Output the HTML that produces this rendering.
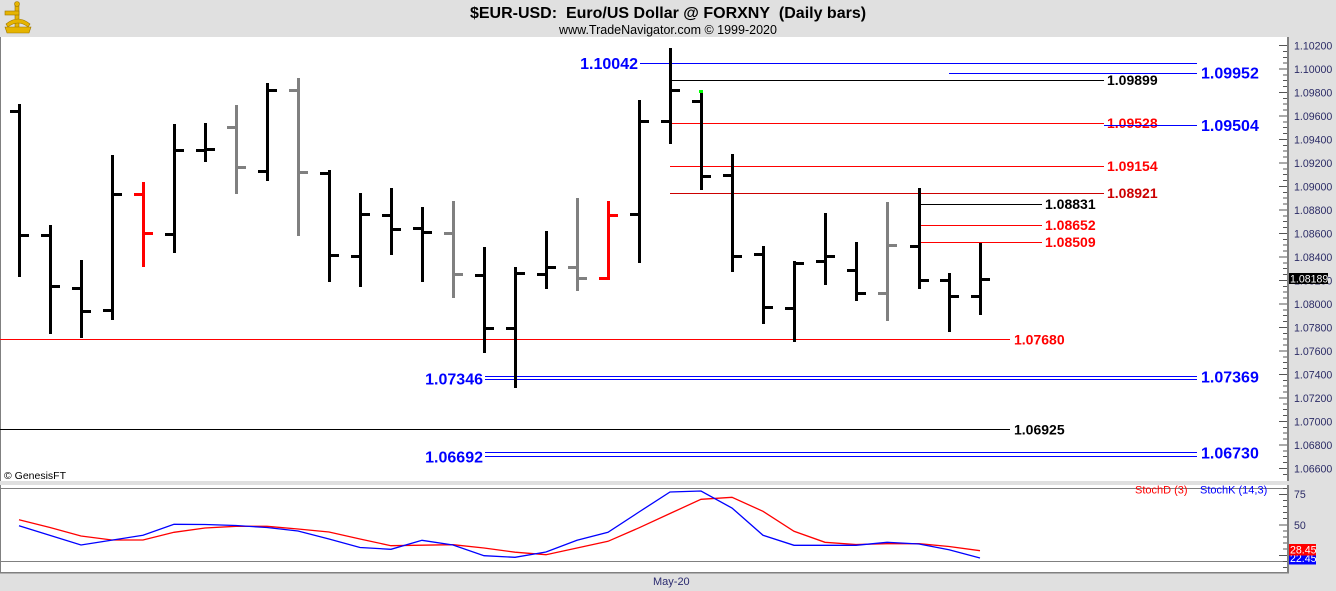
<!DOCTYPE html>
<html>
<head>
<meta charset="utf-8">
<style>
html,body{margin:0;padding:0;background:#e0e0e0;}
svg{display:block;}
text{font-family:"Liberation Sans",Arial,sans-serif;}
</style>
</head>
<body>
<svg width="1336" height="591" viewBox="0 0 1336 591" xmlns="http://www.w3.org/2000/svg">
<rect x="0" y="0" width="1336" height="591" fill="#e0e0e0"/>
<!-- header -->
<text x="668" y="18" text-anchor="middle" font-size="16" font-weight="bold" fill="#000">$EUR-USD:&#160; Euro/US Dollar @ FORXNY&#160; (Daily bars)</text>
<text x="668" y="34" text-anchor="middle" font-size="12.5" fill="#000">www.TradeNavigator.com © 1999-2020</text>
<!-- logo -->
<g fill="#e6b400" stroke="#9a7400" stroke-width="0.6">
  <rect x="15" y="4" width="4" height="26"/>
  <rect x="5" y="11" width="14" height="4"/>
  <path d="M6 24 Q18 14 30 24 L28 27 Q18 19 8 27 Z"/>
  <path d="M5 27 L31 27 L29 33 L7 33 Z"/>
  <circle cx="17" cy="4" r="2.5"/>
</g>
<!-- panels -->
<g shape-rendering="crispEdges">
<rect x="1" y="37" width="1286" height="444" fill="#ffffff"/>
<rect x="1" y="485" width="1286" height="87" fill="#ffffff"/>
<rect x="0" y="37" width="1" height="444" fill="#808080"/>
<rect x="0" y="485" width="1" height="88" fill="#808080"/>
<rect x="1287" y="37" width="2" height="444" fill="#808080"/>
<rect x="1287" y="485" width="2" height="88" fill="#808080"/>
<rect x="1" y="488" width="1286" height="1" fill="#808080"/>
<rect x="1" y="561" width="1286" height="1" fill="#808080"/>
<rect x="0" y="572" width="1289" height="1.5" fill="#808080"/>
</g>

<!-- price axis ticks -->
<g stroke="#555" stroke-width="1" shape-rendering="crispEdges">
<path d="M1279 45.5H1287M1279 69H1287M1279 92.5H1287M1279 116H1287M1279 139.5H1287M1279 163H1287M1279 186.5H1287M1279 210H1287M1279 233.5H1287M1279 257H1287M1279 280.5H1287M1279 304H1287M1279 327.5H1287M1279 351H1287M1279 374.5H1287M1279 398H1287M1279 421.5H1287M1279 445H1287M1279 468.5H1287"/>
<path d="M1283 51.4H1287M1283 57.3H1287M1283 63.1H1287M1283 74.9H1287M1283 80.7H1287M1283 86.6H1287M1283 98.4H1287M1283 104.2H1287M1283 110.1H1287M1283 121.9H1287M1283 127.7H1287M1283 133.6H1287M1283 145.4H1287M1283 151.2H1287M1283 157.1H1287M1283 168.9H1287M1283 174.7H1287M1283 180.6H1287M1283 192.4H1287M1283 198.2H1287M1283 204.1H1287M1283 215.9H1287M1283 221.7H1287M1283 227.6H1287M1283 239.4H1287M1283 245.2H1287M1283 251.1H1287M1283 262.9H1287M1283 268.7H1287M1283 274.6H1287M1283 286.4H1287M1283 292.2H1287M1283 298.1H1287M1283 309.9H1287M1283 315.7H1287M1283 321.6H1287M1283 333.4H1287M1283 339.2H1287M1283 345.1H1287M1283 356.9H1287M1283 362.7H1287M1283 368.6H1287M1283 380.4H1287M1283 386.2H1287M1283 392.1H1287M1283 403.9H1287M1283 409.7H1287M1283 415.6H1287M1283 427.4H1287M1283 433.2H1287M1283 439.1H1287M1283 450.9H1287M1283 456.7H1287M1283 462.6H1287M1283 474.4H1287"/>
</g>
<g font-size="10.6" fill="#2b2b66">
<text x="1294" y="49.5">1.10200</text>
<text x="1294" y="73">1.10000</text>
<text x="1294" y="96.5">1.09800</text>
<text x="1294" y="120">1.09600</text>
<text x="1294" y="143.5">1.09400</text>
<text x="1294" y="167">1.09200</text>
<text x="1294" y="190.5">1.09000</text>
<text x="1294" y="214">1.08800</text>
<text x="1294" y="237.5">1.08600</text>
<text x="1294" y="261">1.08400</text>
<text x="1294" y="284.5">1.08200</text>
<text x="1294" y="308">1.08000</text>
<text x="1294" y="331.5">1.07800</text>
<text x="1294" y="355">1.07600</text>
<text x="1294" y="378.5">1.07400</text>
<text x="1294" y="402">1.07200</text>
<text x="1294" y="425.5">1.07000</text>
<text x="1294" y="449">1.06800</text>
<text x="1294" y="472.5">1.06600</text>
</g>
<rect x="1289" y="273" width="39" height="11" fill="#000" shape-rendering="crispEdges"/>
<text x="1290" y="282.5" font-size="10.6" fill="#fff">1.08189</text>

<!-- horizontal levels -->
<g stroke-width="1" shape-rendering="crispEdges" fill="none">
<path d="M640 63.5H1197" stroke="#0000ff"/>
<path d="M949 73.5H1197" stroke="#0000ff"/>
<path d="M671 80.5H1104" stroke="#000"/>
<path d="M671 123.5H1104" stroke="#ff0000"/>
<path d="M670 166.5H1104" stroke="#ff0000"/>
<path d="M670 193.5H1104" stroke="#cc0000"/>
<path d="M919 204.5H1042" stroke="#000"/>
<path d="M918 225.5H1042" stroke="#ff0000"/>
<path d="M918 242.5H1042" stroke="#ff0000"/>
<path d="M0 339.5H1010" stroke="#ff0000"/>
<path d="M485 376.5H1197M485 379.5H1197" stroke="#0000ff"/>
<path d="M0 429.5H1010" stroke="#000"/>
<path d="M485 452.5H1197M485 456.5H1197" stroke="#0000ff"/>
</g>
<g font-size="14" font-weight="bold">
<text x="1107" y="85" fill="#000">1.09899</text>
<text x="1107" y="128" fill="#ff0000">1.09528</text>
<text x="1107" y="171" fill="#ff0000">1.09154</text>
<text x="1107" y="198" fill="#cc0000">1.08921</text>
<text x="1045" y="209" fill="#000">1.08831</text>
<text x="1045" y="230" fill="#ff0000">1.08652</text>
<text x="1045" y="247" fill="#ff0000">1.08509</text>
<text x="1014" y="344.5" fill="#ff0000">1.07680</text>
<text x="1014" y="434.5" fill="#000">1.06925</text>
</g>
<path d="M1104 125.5H1197" stroke="#0000ff" stroke-width="1" shape-rendering="crispEdges"/>
<g font-size="16" font-weight="bold" fill="#0000ff">
<text x="638" y="69" text-anchor="end">1.10042</text>
<text x="1201" y="78.5">1.09952</text>
<text x="1201" y="131">1.09504</text>
<text x="1201" y="382.5">1.07369</text>
<text x="1201" y="458.5">1.06730</text>
<text x="483" y="384.7" text-anchor="end">1.07346</text>
<text x="483" y="462.4" text-anchor="end">1.06692</text>
</g>

<!-- OHLC bars -->
<g shape-rendering="crispEdges">
<g fill="#000">
<rect x="18" y="104" width="3" height="173"/><rect x="10" y="110" width="8" height="3"/><rect x="21" y="234" width="8" height="3"/>
<rect x="49" y="225" width="3" height="109"/><rect x="41" y="234" width="8" height="3"/><rect x="52" y="285" width="8" height="3"/>
<rect x="80" y="260" width="3" height="78"/><rect x="72" y="287" width="8" height="3"/><rect x="83" y="310" width="8" height="3"/>
<rect x="111" y="155" width="3" height="165"/><rect x="103" y="309" width="8" height="3"/><rect x="114" y="193" width="8" height="3"/>
<rect x="173" y="124" width="3" height="129"/><rect x="165" y="233" width="8" height="3"/><rect x="176" y="149" width="8" height="3"/>
<rect x="204" y="123" width="3" height="39"/><rect x="196" y="149" width="8" height="3"/><rect x="207" y="148" width="8" height="3"/>
<rect x="266" y="83" width="3" height="98"/><rect x="258" y="170" width="8" height="3"/><rect x="269" y="89" width="8" height="3"/>
<rect x="328" y="170" width="3" height="112"/><rect x="320" y="172" width="8" height="3"/><rect x="331" y="254" width="8" height="3"/>
<rect x="359" y="193" width="3" height="94"/><rect x="351" y="255" width="8" height="3"/><rect x="362" y="213" width="8" height="3"/>
<rect x="390" y="188" width="3" height="67"/><rect x="382" y="214" width="8" height="3"/><rect x="393" y="228" width="8" height="3"/>
<rect x="421" y="207" width="3" height="75"/><rect x="413" y="227" width="8" height="3"/><rect x="424" y="231" width="8" height="3"/>
<rect x="483" y="247" width="3" height="106"/><rect x="475" y="274" width="8" height="3"/><rect x="486" y="327" width="8" height="3"/>
<rect x="514" y="267" width="3" height="121"/><rect x="506" y="327" width="8" height="3"/><rect x="517" y="272" width="8" height="3"/>
<rect x="545" y="231" width="3" height="58"/><rect x="537" y="273" width="8" height="3"/><rect x="548" y="266" width="8" height="3"/>
<rect x="638" y="100" width="3" height="163"/><rect x="630" y="213" width="8" height="3"/><rect x="641" y="120" width="8" height="3"/>
<rect x="669" y="48" width="3" height="96"/><rect x="661" y="120" width="8" height="3"/><rect x="672" y="89" width="8" height="3"/>
<rect x="700" y="93" width="3" height="97"/><rect x="692" y="100" width="8" height="3"/><rect x="703" y="175" width="8" height="3"/>
<rect x="731" y="154" width="3" height="118"/><rect x="723" y="174" width="8" height="3"/><rect x="734" y="255" width="8" height="3"/>
<rect x="762" y="246" width="3" height="78"/><rect x="754" y="253" width="8" height="3"/><rect x="765" y="306" width="8" height="3"/>
<rect x="793" y="261" width="3" height="81"/><rect x="785" y="307" width="8" height="3"/><rect x="796" y="262" width="8" height="3"/>
<rect x="824" y="213" width="3" height="72"/><rect x="816" y="260" width="8" height="3"/><rect x="827" y="255" width="8" height="3"/>
<rect x="855" y="242" width="3" height="59"/><rect x="847" y="269" width="8" height="3"/><rect x="858" y="292" width="8" height="3"/>
<rect x="918" y="188" width="3" height="101"/><rect x="910" y="245" width="8" height="3"/><rect x="921" y="279" width="8" height="3"/>
<rect x="948" y="273" width="3" height="59"/><rect x="940" y="279" width="8" height="3"/><rect x="951" y="295" width="8" height="3"/>
<rect x="979" y="243" width="3" height="72"/><rect x="971" y="295" width="8" height="3"/><rect x="982" y="278" width="8" height="3"/>
</g>
<g fill="#808080">
<rect x="235" y="105" width="3" height="89"/><rect x="227" y="126" width="8" height="3"/><rect x="238" y="166" width="8" height="3"/>
<rect x="297" y="78" width="3" height="158"/><rect x="289" y="89" width="8" height="3"/><rect x="300" y="171" width="8" height="3"/>
<rect x="452" y="201" width="3" height="97"/><rect x="444" y="232" width="8" height="3"/><rect x="455" y="273" width="8" height="3"/>
<rect x="576" y="198" width="3" height="93"/><rect x="568" y="266" width="8" height="3"/><rect x="579" y="277" width="8" height="3"/>
<rect x="886" y="202" width="3" height="119"/><rect x="878" y="292" width="8" height="3"/><rect x="889" y="244" width="8" height="3"/>
</g>
<g fill="#ff0000">
<rect x="142" y="182" width="3" height="85"/><rect x="134" y="193" width="8" height="3"/><rect x="145" y="232" width="8" height="3"/>
<rect x="607" y="201" width="3" height="79"/><rect x="599" y="277" width="8" height="3"/><rect x="610" y="214" width="8" height="3"/>
</g>
<rect x="699" y="90" width="4" height="3" fill="#00ff00"/>
</g>

<text x="4" y="479" font-size="10.5" fill="#000">© GenesisFT</text>

<!-- stochastic -->
<polyline fill="none" stroke="#ff0000" stroke-width="1.3" points="19,519.7 50,527.5 81,536 112,540 143,540 174,532.3 205,528 236,526.3 267,526.3 298,529 329,532 360,539 391,545.7 422,545.2 453,544.7 484,548 515,552.2 546,554.7 577,548 608,541.3 639,527.8 670,513.5 701,499.3 732,497.3 763,511.3 794,531.3 825,542.3 856,544.5 887,543.7 919,543.7 949,546.5 980,550.7"/>
<polyline fill="none" stroke="#0000ff" stroke-width="1.3" points="19,525.7 50,535.4 81,545 112,540.1 143,535.3 174,524.3 205,524.5 236,525.5 267,527.5 298,531 329,539 360,547.5 391,549.3 422,540.3 453,545 484,555.7 515,557.3 546,552 577,540.3 608,532.3 639,512 670,492 701,491 732,508 763,535.3 794,545.3 825,545.3 856,545.3 887,542.3 919,544 949,549.7 980,558"/>
<text x="1135" y="493.5" font-size="11" fill="#ff0000">StochD (3)</text>
<text x="1200" y="493.5" font-size="11" fill="#0000ff">StochK (14,3)</text>

<g stroke="#555" stroke-width="1" shape-rendering="crispEdges">
<path d="M1279 494.5H1287M1279 525H1287M1279 555.5H1287"/>
<path d="M1283 488.5H1287M1283 500.5H1287M1283 506.5H1287M1283 512.5H1287M1283 518.5H1287M1283 531H1287M1283 537H1287M1283 543H1287M1283 549H1287M1283 561.5H1287M1283 567.5H1287"/>
</g>
<text x="1294" y="498" font-size="10.6" fill="#2b2b66">75</text>
<text x="1294" y="529" font-size="10.6" fill="#2b2b66">50</text>
<rect x="1289" y="553" width="27" height="11.5" fill="#0000ff" shape-rendering="crispEdges"/>
<text x="1290" y="562" font-size="10.6" fill="#fff">22.45</text>
<rect x="1289" y="544" width="27" height="11.5" fill="#ff0000" shape-rendering="crispEdges"/>
<text x="1290" y="553.5" font-size="10.6" fill="#fff">28.45</text>

<text x="653" y="585" font-size="11" fill="#2b2b70">May-20</text>
</svg>
</body>
</html>
